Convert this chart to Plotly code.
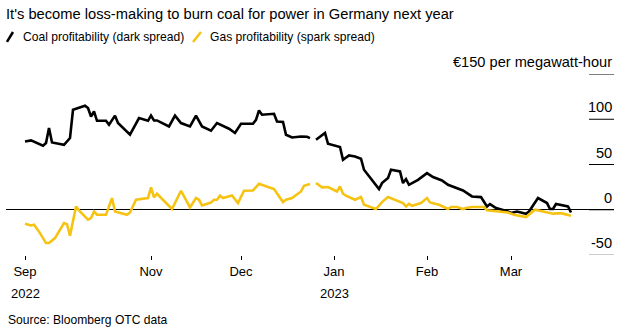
import plotly.graph_objects as go

# ---------------- data ----------------
coal_dates = [
    "2022-09-20", "2022-09-22", "2022-09-26", "2022-09-27", "2022-09-28", "2022-09-29",
    "2022-10-03", "2022-10-05", "2022-10-06", "2022-10-08", "2022-10-10", "2022-10-11",
    "2022-10-12", "2022-10-13", "2022-10-14", "2022-10-17", "2022-10-18", "2022-10-20",
    "2022-10-21", "2022-10-25", "2022-10-28", "2022-10-31", "2022-11-01", "2022-11-02",
    "2022-11-03", "2022-11-07", "2022-11-09", "2022-11-11", "2022-11-14", "2022-11-16",
    "2022-11-18", "2022-11-21", "2022-11-23", "2022-11-27", "2022-11-29", "2022-12-01",
    "2022-12-05", "2022-12-06", "2022-12-07", "2022-12-08", "2022-12-12", "2022-12-13",
    "2022-12-15", "2022-12-16", "2022-12-18", "2022-12-21", "2022-12-23", "2022-12-24",
    "2022-12-25", "2022-12-26", "2022-12-29", "2022-12-30", "2023-01-01", "2023-01-03",
    "2023-01-04", "2023-01-06", "2023-01-08", "2023-01-10", "2023-01-11", "2023-01-16",
    "2023-01-17", "2023-01-19", "2023-01-20", "2023-01-23", "2023-01-24", "2023-01-25",
    "2023-01-26", "2023-01-29", "2023-02-01", "2023-02-03", "2023-02-06", "2023-02-08",
    "2023-02-13", "2023-02-16", "2023-02-19", "2023-02-20", "2023-02-21", "2023-02-22",
    "2023-02-24", "2023-02-28", "2023-03-01", "2023-03-03", "2023-03-06", "2023-03-07",
    "2023-03-10", "2023-03-13", "2023-03-14", "2023-03-15", "2023-03-16", "2023-03-20",
    "2023-03-21",
]
coal_values = [
    75.5, 76.6, 70.7, 73.7, 90.3, 74.4,
    71.8, 79.2, 110.5, 112.4, 115, 112.4,
    103, 108.6, 98.3, 98.3, 94, 104,
    95.8, 82.9, 101.3, 98.3, 104, 98.7,
    98.7, 92, 104, 95.8, 92, 104,
    92, 87.3, 95.8, 89.5, 84.8, 95,
    95, 99.4, 109.7, 105, 106, 97.6,
    96.9, 82.9, 79.9, 81, 80.7, 79.2,
    None, 77.3, 84.8, 72.9, 70.7, 69.3,
    55.2, 60, 58.9, 56.4, 44.2, 22.9,
    29.5, 35, 44.2, 42.3, 29.5, 33.9,
    27.6, 33.1, 40.5, 36.1, 32.4, 27.6,
    21.3, 14.7, 14, 9.2, 3.6, 6.3,
    1.9, -1.9, -3.6, -1.9, -4.4, -1.9,
    12.9, 7.4, 0.8, 0.8, 6.3, 3.6,
    -3,
]

gas_dates = [
    "2022-09-20", "2022-09-22", "2022-09-23", "2022-09-25", "2022-09-27", "2022-09-28",
    "2022-09-30", "2022-10-03", "2022-10-04", "2022-10-05", "2022-10-07", "2022-10-08",
    "2022-10-11", "2022-10-12", "2022-10-13", "2022-10-14", "2022-10-17", "2022-10-19",
    "2022-10-20", "2022-10-24", "2022-10-25", "2022-10-27", "2022-10-31", "2022-11-01",
    "2022-11-02", "2022-11-03", "2022-11-08", "2022-11-09", "2022-11-11", "2022-11-14",
    "2022-11-16", "2022-11-17", "2022-11-18", "2022-11-21", "2022-11-22", "2022-11-23",
    "2022-11-24", "2022-11-25", "2022-11-28", "2022-11-30", "2022-12-02", "2022-12-05",
    "2022-12-07", "2022-12-10", "2022-12-12", "2022-12-15", "2022-12-16", "2022-12-18",
    "2022-12-20", "2022-12-21", "2022-12-22", "2022-12-24", "2022-12-25", "2022-12-26",
    "2022-12-28", "2022-12-30", "2023-01-02", "2023-01-03", "2023-01-04", "2023-01-05",
    "2023-01-08", "2023-01-10", "2023-01-11", "2023-01-15", "2023-01-17", "2023-01-19",
    "2023-01-22", "2023-01-24", "2023-01-25", "2023-01-26", "2023-01-27", "2023-01-30",
    "2023-02-01", "2023-02-02", "2023-02-05", "2023-02-08", "2023-02-09", "2023-02-11",
    "2023-02-13", "2023-02-14", "2023-02-16", "2023-02-19", "2023-02-20", "2023-02-21",
    "2023-02-24", "2023-02-28", "2023-03-02", "2023-03-04", "2023-03-06", "2023-03-09",
    "2023-03-12", "2023-03-15", "2023-03-16", "2023-03-18", "2023-03-21",
]
gas_values = [
    -15.5, -17.3, -16.6, -25.8, -36.8, -36.8,
    -31.3, -14.7, -16, -28.7, 3.6, -0.7,
    -11, -9.2, -1.9, -5.5, -5.5, 12.9,
    -1.9, -5.5, -3, 11, 12.9, 24.7,
    13.6, 17.7, 0.8, 7.4, 21, 2.5,
    12.9, 11, 4.8, 8, 11, 11,
    15.5, 12.9, 15.8, 7.4, 21, 21.3,
    28.7, 25.1, 22.9, 8.5, 11, 12.9,
    18.4, 20.2, 26.5, 28.4, None, 29.5,
    24.7, 25.1, 20.2, 25.8, 17.7, 15.5,
    11, 14, 5.5, 0.8, 8.5, 14,
    10.3, 7.4, 3.6, 6.6, 4.4, 7.4,
    12.9, 8.1, 5.5, 0.8, 3, 3,
    0.8, 1.9, 3, 3.6, 3, -0.7,
    -1.9, -3, -5.5, -6.6, -8.1, 0,
    -1.9, -4.4, -4, -4, -6.6,
]

series_names = ["Coal profitability (dark spread)", "Gas profitability (spark spread)"]
series_colors = ["#000000", "#F6C313"]

x_tick_vals = ["2022-09-20", "2022-11-01", "2022-12-01", "2023-01-01", "2023-02-01", "2023-03-01"]
x_tick_text = ["Sep", "Nov", "Dec", "Jan", "Feb", "Mar"]
year_tick_vals = ["2022-09-20", "2023-01-01"]
year_tick_text = ["2022", "2023"]

y_tick_vals = [150, 100, 50, 0, -50]
y_tick_text = ["€150 per megawatt-hour", "100", "50", "0", "-50"]

title_text = "It's become loss-making to burn coal for power in Germany next year"
source_text = "Source: Bloomberg OTC data"

FONT = "Liberation Sans, Arial, Helvetica, sans-serif"

# ---------------- figure ----------------
fig = go.Figure()
fig.add_trace(go.Scatter(x=coal_dates, y=coal_values, mode="lines", name=series_names[0],
                         line=dict(color=series_colors[0], width=2.6), connectgaps=False))
fig.add_trace(go.Scatter(x=gas_dates, y=gas_values, mode="lines", name=series_names[1],
                         line=dict(color=series_colors[1], width=2.6), connectgaps=False))

# Right-hand tick marks and labels
shapes = []
annotations = []
for v, t in zip(y_tick_vals, y_tick_text):
    shapes.append(dict(type="line", xref="paper", yref="y", x0=0.9589, x1=1.0, y0=v, y1=v,
                       line=dict(color="#999999" if v == y_tick_vals[-1] else "#000000", width=1)))
    annotations.append(dict(text=t, xref="paper", yref="y", x=1.0, y=v, xanchor="right",
                            yanchor="bottom", yshift=2, showarrow=False,
                            font=dict(size=14.6, color="#000000", family=FONT)))

# Year labels under the month ticks
for xv, yt in zip(year_tick_vals, year_tick_text):
    annotations.append(dict(text=yt, xref="x", yref="paper", x=xv, y=-0.212,
                            xanchor="center", yanchor="middle", showarrow=False,
                            font=dict(size=13, color="#000000", family=FONT)))

# Legend (slash icons + labels)
legend_icon_x = [(0.0016, 0.0115), (0.3076, 0.3207)]
legend_text_x = [0.0240, 0.3330]
for (x0, x1), tx, name, col in zip(legend_icon_x, legend_text_x, series_names, series_colors):
    shapes.append(dict(type="line", xref="paper", yref="paper", x0=x0, x1=x1, y0=1.177, y1=1.232,
                       line=dict(color=col, width=2.5)))
    annotations.append(dict(text=name, xref="paper", yref="paper", x=tx, y=1.2044,
                            xanchor="left", yanchor="middle", showarrow=False,
                            font=dict(size=12.1, color="#000000", family=FONT)))

annotations.append(dict(text=source_text, xref="paper", yref="paper", x=0.0, y=-0.359,
                        xanchor="left", yanchor="middle", showarrow=False,
                        font=dict(size=12.1, color="#000000", family=FONT)))

fig.update_layout(
    width=628, height=333,
    margin=dict(l=6, r=14, t=74, b=78),
    paper_bgcolor="#ffffff", plot_bgcolor="#ffffff",
    showlegend=False,
    title=dict(text=title_text, x=6 / 628, xanchor="left", xref="container",
               y=1 - 14 / 333, yanchor="middle", yref="container",
               font=dict(size=14.7, color="#000000", family=FONT)),
    shapes=shapes,
    annotations=annotations,
    xaxis=dict(type="date", range=["2022-09-13 16:00", "2023-04-04 08:00"],
               tickmode="array", tickvals=x_tick_vals, ticktext=x_tick_text,
               ticks="outside", ticklen=4, tickwidth=1, tickcolor="#000000",
               showgrid=False, showline=False, zeroline=False,
               tickfont=dict(size=13, color="#000000", family=FONT)),
    yaxis=dict(range=[-50, 150], showticklabels=False, ticks="", showgrid=False,
               zeroline=True, zerolinecolor="#000000", zerolinewidth=1, showline=False),
)

fig.write_html("out.html")
